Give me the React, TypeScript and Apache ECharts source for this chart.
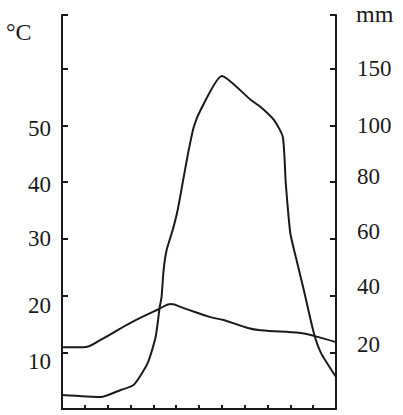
import React, { useEffect, useRef } from "react";
import * as echarts from "echarts";

// Month positions (0 = start of Jan, 12 = end of Dec)
const tempMonthPos = [0, 0.94, 1.69, 3.0, 4.23, 4.76, 5.33, 6.5, 7.08, 8.14, 8.7, 10.46, 11.03, 12];
const temperatureC = [10.9, 10.9, 12.2, 15.2, 17.6, 18.5, 17.8, 16.2, 15.7, 14.3, 13.9, 13.4, 12.9, 11.8];

const precipMonthPos = [0, 1.69, 2.57, 3.14, 3.75, 4.1, 4.28, 4.36, 4.45, 4.58, 4.85, 5.07, 5.33, 5.55, 5.77, 6.07, 7.0, 8.27, 8.7, 9.28, 9.67, 9.8, 10.0, 10.24, 10.59, 11.03, 11.34, 12];
const precipitationMm = [4.9, 4.2, 6.7, 8.5, 16.2, 25.4, 36, 39.5, 49, 56, 63.2, 70.4, 81.8, 91.4, 99.5, 113.7, 143.7, 122.6, 116.4, 105, 96, 79.7, 62, 53.6, 42, 26.8, 19.8, 11.3];

// Tick labels
const leftTickLabels = ["10", "20", "30", "40", "50"]; // at 10..50 °C
const rightTickLabels = ["20", "40", "60", "80", "100", "150"]; // at 10..60 on the °C scale

// Walter–Lieth style: 10 °C = 20 mm up to 100 mm, above 100 mm: 10 °C = 50 mm
const mmToScale = (mm: number) => (mm <= 100 ? mm / 2 : 50 + (mm - 100) / 5);

const FONT = "Liberation Serif";
const INK = "#1a1a1a";
const FS = 23;

const txt = (pad: number[]) => ({ fontFamily: FONT, fontSize: FS, color: INK, padding: pad });

export default function App() {
  const ref = useRef<HTMLDivElement>(null);
  useEffect(() => {
    document.body.style.margin = "0";
    if (!ref.current) return;
    const chart = echarts.init(ref.current, null, { renderer: "svg" });
    const tempData = tempMonthPos.map((x, i) => [x, temperatureC[i]]);
    const precData = precipMonthPos.map((x, i) => [x, mmToScale(precipitationMm[i])]);
    const leftStyle = ["d9", "d10", "d0", "d2", "d3"];
    const rightStyle = ["u8", "u9", "u7", "u6", "u0", "u0"];
    const labelFor = (v: number, labels: string[], styles: string[]) => {
      const idx = Math.round(v / 10) - 1;
      if (Math.abs(v - Math.round(v / 10) * 10) > 1e-6) return "";
      if (idx < 0 || idx >= labels.length) return "";
      return `{${styles[idx]}|${labels[idx]}}`;
    };
    chart.setOption({
      animation: false,
      backgroundColor: "#ffffff",
      grid: { left: 62, right: 67, top: 15, bottom: 6, containLabel: false, outerBoundsMode: "none" },
      xAxis: {
        type: "value",
        min: 0,
        max: 12,
        interval: 1,
        axisLine: { show: true, lineStyle: { color: INK, width: 2 } },
        axisTick: { show: true, inside: true, length: 4, lineStyle: { color: INK, width: 2 } },
        axisLabel: { show: false },
        splitLine: { show: false },
      },
      yAxis: [
        {
          type: "value",
          position: "left",
          min: 0,
          max: 69.5,
          interval: 10,
          axisLine: { show: true, lineStyle: { color: INK, width: 2 } },
          axisTick: { show: true, inside: true, length: 6, lineStyle: { color: INK, width: 2 } },
          axisLabel: {
            margin: 11,
            color: INK,
            fontFamily: FONT,
            fontSize: FS,
            formatter: (v: number) => labelFor(v, leftTickLabels, leftStyle),
            rich: {
              d0: txt([0, 0, 0, 0]),
              d2: txt([4, 0, 0, 0]),
              d3: txt([6, 0, 0, 0]),
              d9: txt([18, 0, 0, 0]),
              d10: txt([20, 0, 0, 0]),
            },
          },
          splitLine: { show: false },
        },
        {
          type: "value",
          position: "right",
          min: 0,
          max: 69.5,
          interval: 10,
          axisLine: { show: true, lineStyle: { color: INK, width: 2 } },
          axisTick: { show: true, inside: true, length: 6, lineStyle: { color: INK, width: 2 } },
          axisLabel: {
            margin: 21,
            color: INK,
            fontFamily: FONT,
            fontSize: FS,
            formatter: (v: number) => labelFor(v, rightTickLabels, rightStyle),
            rich: {
              u0: txt([0, 0, 0, 0]),
              u6: txt([0, 0, 12, 0]),
              u7: txt([0, 0, 14, 0]),
              u8: txt([0, 0, 16, 0]),
              u9: txt([0, 0, 18, 0]),
            },
          },
          splitLine: { show: false },
        },
      ],
      graphic: [
        { type: "text", left: 6, top: 20, style: { text: "°C", font: `24px "${FONT}"`, fill: INK } },
        { type: "text", left: 356, top: 2, style: { text: "mm", font: `24px "${FONT}"`, fill: INK } },
      ],
      series: [
        {
          type: "line",
          name: "Temperature",
          data: tempData,
          yAxisIndex: 0,
          smooth: 0.4,
          showSymbol: false,
          lineStyle: { color: INK, width: 2 },
        },
        {
          type: "line",
          name: "Precipitation",
          data: precData,
          yAxisIndex: 0,
          smooth: 0.2,
          showSymbol: false,
          lineStyle: { color: INK, width: 2 },
        },
      ],
    });
    return () => chart.dispose();
  }, []);
  return <div ref={ref} style={{ width: 403, height: 415 }} />;
}
